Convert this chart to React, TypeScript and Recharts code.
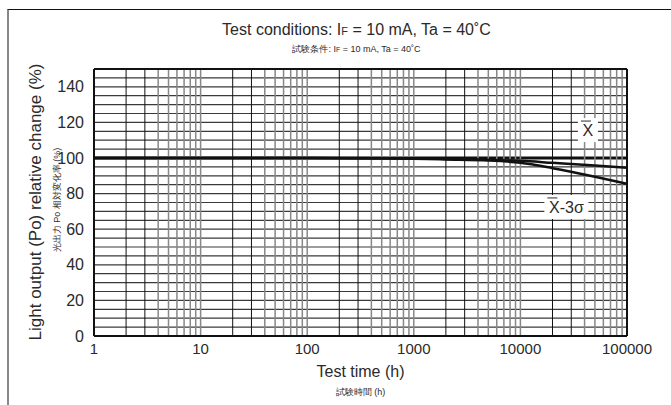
import React from 'react';
import { LineChart, Line, XAxis, YAxis, ReferenceLine, ReferenceDot } from 'recharts';

// test time (h) and light output (%)
const hours = [1, 10, 100, 1000, 2000, 5000, 10000, 20000, 50000, 100000];
const meanValues = [100, 100, 100, 99.8, 99.5, 99, 98.4, 97.3, 95.8, 94.5];
const minus3SigmaValues = [100, 100, 100, 99.6, 99.2, 98.6, 97.3, 94.3, 89.5, 85.5];

const xTicks = [1, 10, 100, 1000, 10000, 100000];
const yTicks = [0, 20, 40, 60, 80, 100, 120, 140];

// grid
const decades = [1, 10, 100, 1000, 10000];
const steps = [1, 2, 3, 4, 5, 6, 7, 8, 9];
const hGrid = Array.from({ length: 31 }, (_, i) => i * 5);

const chartData = hours.map((h, i) => ({
  hours: h,
  mean: meanValues[i],
  minus3: minus3SigmaValues[i],
}));

const FONT = '"Liberation Sans", Arial, sans-serif';
const INK = '#2a2a2a';

const BoxLabel = (props: any) => {
  const { viewBox, text } = props;
  const cx = viewBox.x;
  const cy = viewBox.y;
  const w = text.length > 2 ? 44 : 20;
  return (
    <g>
      <rect x={cx - w / 2} y={cy - 12} width={w} height={24} fill="#fff" />
      <text x={cx} y={cy + 6} textAnchor="middle" fontSize={16} fontFamily={FONT} fill={INK}>
        {text}
      </text>
      <line x1={cx - w / 2 + 3} x2={cx - w / 2 + 13} y1={cy - 9} y2={cy - 9} stroke={INK} strokeWidth={1} />
    </g>
  );
};

export default function App() {
  return (
    <div style={{ position: 'absolute', left: 0, top: 0, width: 671, height: 405, background: '#fff', fontFamily: FONT, color: INK }}>
      <div style={{ position: 'absolute', left: 7, top: 9, width: 664, height: 396, borderTop: '1px solid #111', borderLeft: '2px solid #888' }} />

      <div style={{ position: 'absolute', left: 90, width: 533, top: 21, textAlign: 'center', fontSize: 16 }}>
        Test conditions: I<span style={{ fontSize: 11 }}>F</span> = 10 mA, Ta = 40˚C
      </div>
      <div style={{ position: 'absolute', left: 90, width: 533, top: 43, textAlign: 'center', fontSize: 9 }}>
        試験条件: I<span style={{ fontSize: 7 }}>F</span> = 10 mA, Ta = 40˚C
      </div>

      <div style={{ position: 'absolute', left: 36 - 150, top: 202 - 10, width: 300, textAlign: 'center', fontSize: 17, transform: 'rotate(-90deg)', lineHeight: '20px' }}>
        Light output (Po) relative change (%)
      </div>
      <div style={{ position: 'absolute', left: 57 - 150, top: 200 - 6, width: 300, textAlign: 'center', fontSize: 9, transform: 'rotate(-90deg)', lineHeight: '12px' }}>
        光出力 Po 相対変化率 (%)
      </div>

      <div style={{ position: 'absolute', left: 94, width: 533, top: 363, textAlign: 'center', fontSize: 16 }}>
        Test time (h)
      </div>
      <div style={{ position: 'absolute', left: 94, width: 533, top: 386, textAlign: 'center', fontSize: 9 }}>
        試験時間 (h)
      </div>

      <LineChart
        width={671}
        height={405}
        data={chartData}
        margin={{ top: 69, right: 44, left: 54, bottom: 39 }}
        style={{ position: 'absolute', left: 0, top: 0 }}
      >
        <XAxis
          dataKey="hours"
          type="number"
          scale="log"
          domain={[1, 100000]}
          ticks={xTicks}
          allowDataOverflow
          height={30}
          axisLine={false}
          tickLine={false}
          tick={{ fontSize: 15, fill: INK, fontFamily: FONT }}
          tickMargin={1}
        />
        <YAxis
          type="number"
          domain={[0, 150]}
          ticks={yTicks}
          width={40}
          axisLine={false}
          tickLine={false}
          interval={0}
          tick={{ fontSize: 16, fill: INK, fontFamily: FONT }}
          tickMargin={4}
        />
        {hGrid.map((v) => (
          <ReferenceLine key={'h' + v} y={v} stroke={v === 100 ? '#111' : '#3a3a3a'} strokeWidth={v === 100 ? 3 : 1.2} />
        ))}
        {decades.flatMap((d) =>
          steps.map((s) => (
            <ReferenceLine
              key={'v' + d * s}
              x={d * s}
              stroke={s === 2 || s === 3 ? '#111' : '#888'}
              strokeWidth={s === 2 || s === 3 ? 1 : 1.5}
            />
          ))
        )}
        <ReferenceLine x={1} stroke="#111" strokeWidth={2} />
        <ReferenceLine x={100000} stroke="#111" strokeWidth={2} />
        <ReferenceLine y={0} stroke="#111" strokeWidth={2} />
        <ReferenceLine y={150} stroke="#111" strokeWidth={2} />
        <Line type="monotone" dataKey="mean" stroke="#111" strokeWidth={2.5} dot={false} isAnimationActive={false} />
        <Line type="monotone" dataKey="minus3" stroke="#111" strokeWidth={2.5} dot={false} isAnimationActive={false} />
        <ReferenceDot x={43000} y={115.7} r={0} label={<BoxLabel text="X" />} />
        <ReferenceDot x={27000} y={72.5} r={0} label={<BoxLabel text="X-3σ" />} />
      </LineChart>
    </div>
  );
}
